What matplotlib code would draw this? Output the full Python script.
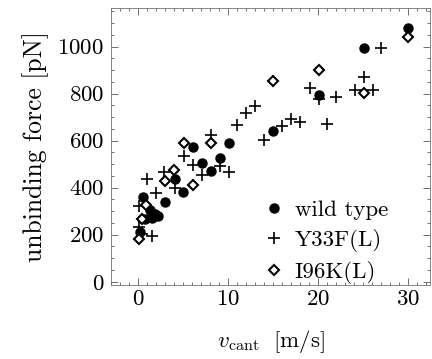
import numpy as np
import matplotlib
matplotlib.use("Agg")
import matplotlib.pyplot as plt
from matplotlib.ticker import MultipleLocator

plt.rcParams['font.family'] = 'serif'
plt.rcParams['font.serif'] = ['cmr10', 'DejaVu Serif']
plt.rcParams['mathtext.fontset'] = 'cm'
plt.rcParams['axes.formatter.use_mathtext'] = True

#%% data
wt_v = [30.0, 25.1, 20.1, 15.0, 10.1, 6.1, 9.1, 7.1, 8.1, 4.1, 5.0, 3.0,
        0.55, 1.3, 1.9, 2.2, 1.5, 0.75, 0.2]
wt_f = [1078, 993, 794, 643, 591, 572, 525, 504, 472, 437, 383, 338,
        362, 305, 287, 281, 270, 267, 213]

y33_v = [27.0, 25.1, 19.1, 20.1, 22.0, 21.0, 24.1, 26.1, 13.0, 12.0, 11.0,
         14.0, 16.0, 17.0, 18.0, 8.1, 5.1, 6.1, 7.1, 9.1, 10.1, 2.9, 4.1,
         1.0, 2.0, 0.1, 0.1, 0.4, 1.5]
y33_f = [996, 870, 823, 776, 787, 670, 816, 816, 748, 717, 667,
         603, 663, 691, 681, 624, 535, 495, 454, 494, 468, 465, 397,
         437, 376, 323, 234, 205, 196]

i96_v = [30.0, 20.1, 15.0, 25.1, 5.1, 8.1, 4.0, 3.0, 6.1, 0.9, 0.4, 0.1]
i96_f = [1043, 899, 855, 804, 589, 591, 475, 428, 410, 328, 267, 182]

#%% figure
fig = plt.figure(figsize=(4.32, 3.59), dpi=100)
ax = fig.add_axes([0.257, 0.206, 0.738, 0.772])

ax.plot(wt_v, wt_f, 'o', color='black', markersize=6.5, label='wild type')
ax.plot(y33_v, y33_f, '+', color='black', markersize=8, markeredgewidth=1.2,
        label='Y33F(L)')
ax.plot(i96_v, i96_f, 'D', markerfacecolor='white', markeredgecolor='black',
        markersize=5, markeredgewidth=1.5, label='I96K(L)')

ax.set_xlim(-3, 32.4)
ax.set_ylim(-14, 1165)
ax.xaxis.set_major_locator(MultipleLocator(10))
ax.xaxis.set_minor_locator(MultipleLocator(1))
ax.yaxis.set_major_locator(MultipleLocator(200))
ax.yaxis.set_minor_locator(MultipleLocator(50))
ax.tick_params(which='both', direction='in', top=True, right=True,
               labelsize=16.5, width=0.6, color='0.35')
ax.tick_params(which='major', length=5)
ax.tick_params(axis='x', which='major', pad=3)
ax.tick_params(axis='y', which='major', pad=5)
ax.tick_params(which='minor', length=2.5)
for s in ax.spines.values():
    s.set_linewidth(0.6)
    s.set_color('0.45')

ax.set_xlabel(r'$v_{\rm cant}\ \ [\rm m/s]$', fontsize=16.5, labelpad=14)
ax.set_ylabel('unbinding force [pN]', fontsize=18.5, labelpad=6)

ax.legend(loc='lower left', frameon=False, fontsize=16.5, handlelength=1.2,
          handletextpad=0.3, labelspacing=0.38, borderpad=0.4,
          bbox_to_anchor=(0.404, -0.07))

fig.savefig('out.png', dpi=100)
